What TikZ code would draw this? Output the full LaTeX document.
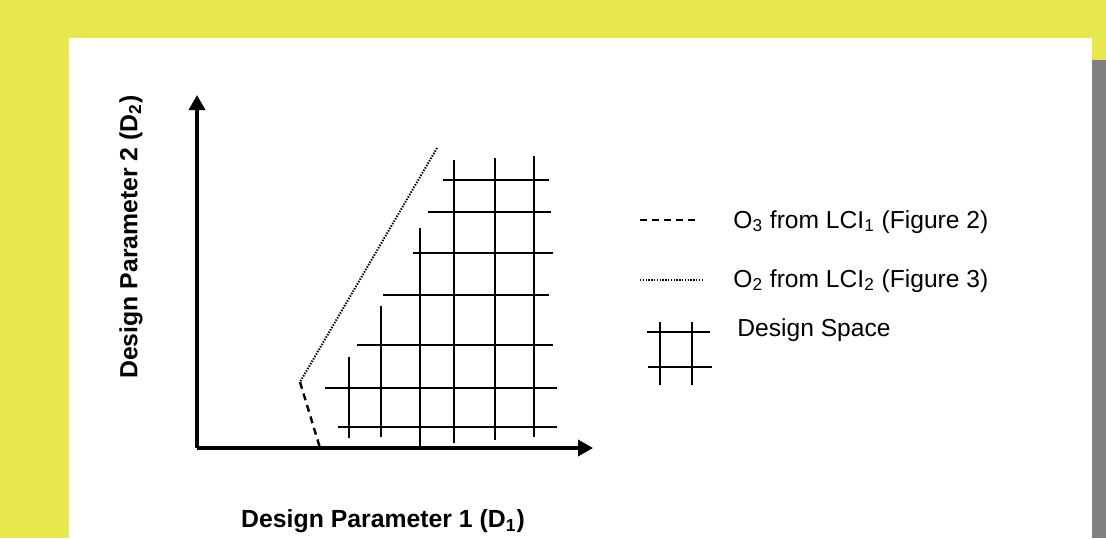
\documentclass[tikz,border=0pt]{standalone}
\usepackage{fontspec}
\setmainfont{Liberation Sans}
\usetikzlibrary{arrows.meta}

\definecolor{bgyellow}{RGB}{230,232,78}
\definecolor{bargray}{RGB}{128,128,128}

\begin{document}
\begin{tikzpicture}[
    x=0.5pt, y=-0.5pt,
    axis/.style={line width=1.75pt, -{Triangle[length=7.5pt, width=8pt]}},
    gridline/.style={line width=0.85pt},
    outline3/.style={line width=1.2pt, dash pattern=on 3.5pt off 2.5pt},
    outline2/.style={line width=1pt, dash pattern=on 0.7pt off 0.7pt},
    legendtext/.style={anchor=base west, inner sep=0pt, font=\fontsize{12.3}{14}\selectfont},
    axislabel/.style={inner sep=0pt, font=\fontsize{12.4}{14}\selectfont\bfseries}
]

% Background and frame
    \fill[bgyellow] (0,0) rectangle (1106,538);
    \fill[white] (69,38) rectangle (1092,538);
    \fill[bargray] (1092,60) rectangle (1106,538);
    \useasboundingbox (0,0) rectangle (1106,538);

% Axes
    \coordinate (origin) at (197,448);
    \coordinate (ytip) at (197,95);
    \coordinate (xtip) at (593,448);
    \draw[axis] (origin) -- (ytip);
    \draw[axis] (origin) -- (xtip);

% Axis labels
    \node[axislabel] (xlabel) at (383,521) {Design Parameter 1 (D\textsubscript{1})};
    \node[axislabel, rotate=90] (ylabel) at (131,237) {Design Parameter 2 (D\textsubscript{2})};

% Design space grid: vertical lines x/top/bottom
    \foreach \x/\top/\bot in {349/357/438, 381/306/437, 420/228/446,
                              454/160/443, 495/158/440, 534/156/437}
        \draw[gridline] (\x,\top) -- (\x,\bot);
% horizontal lines y/left/right
    \foreach \y/\lft/\rgt in {180/443/549, 212/428/551, 253/413/553, 295/383/549,
                              345/357/553, 388/325/557, 427/338/557}
        \draw[gridline] (\lft,\y) -- (\rgt,\y);

% Boundaries O2 and O3
    \coordinate (o2top) at (437,148);
    \coordinate (bend) at (300,382);
    \coordinate (o3foot) at (320,448);
    \draw[outline2] (o2top) -- (bend);
    \draw[outline3] (bend) -- (o3foot);

% Legend
    \coordinate (l3a) at (640,220);
    \coordinate (l3b) at (700,220);
    \draw[outline3] (l3a) -- (l3b);
    \node[legendtext] (o3text) at (733,228) {O\textsubscript{3} from LCI\textsubscript{1} (Figure 2)};

    \coordinate (l2a) at (640,280);
    \coordinate (l2b) at (702,280);
    \draw[outline2] (l2a) -- (l2b);
    \node[legendtext] (o2text) at (733,287) {O\textsubscript{2} from LCI\textsubscript{2} (Figure 3)};

    \draw[gridline] (647,332) -- (710,332);
    \draw[gridline] (648,367) -- (712,367);
    \draw[gridline] (660,322) -- (660,385);
    \draw[gridline] (692,322) -- (692,385);
    \node[legendtext] (dstext) at (737,336) {Design Space};
\end{tikzpicture}
\end{document}
